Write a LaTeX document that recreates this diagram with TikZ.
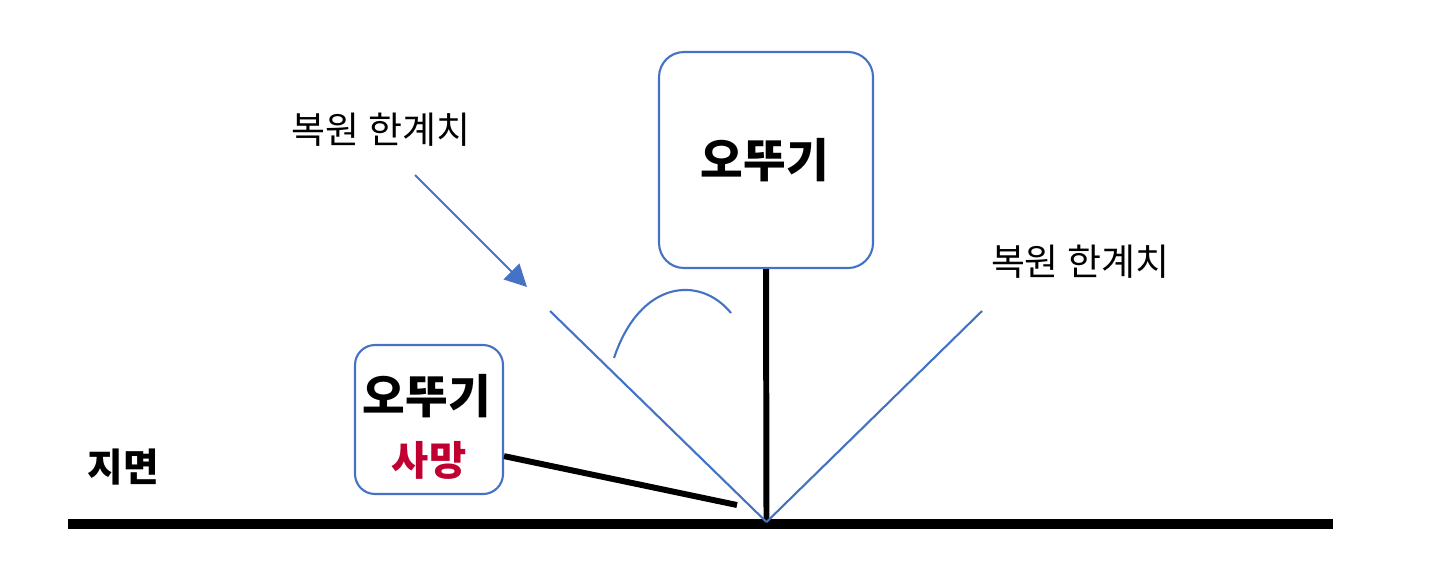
\documentclass[tikz,border=0pt]{standalone}
\usepackage{fontspec}
\setmainfont{Noto Sans CJK KR}
\usepackage{tikz}
\usetikzlibrary{arrows.meta}

\definecolor{lineblue}{RGB}{68,114,196}
\definecolor{deathred}{RGB}{192,0,48}

\begin{document}
\begin{tikzpicture}[
    doll/.style={draw=lineblue, line width=0.6pt, rounded corners=2.5mm, fill=white},
    limit/.style={lineblue, line width=0.6pt},
    stick/.style={line width=1.7pt, black}]
    \useasboundingbox (0,0) rectangle (14.3,5.82);

    % Ground
    \coordinate (gl) at (0.68,0.58);
    \coordinate (gr) at (13.33,0.58);
    \coordinate (base) at (7.665,0.60);
    \draw[line width=3.1pt] (gl) -- (gr);
    \node[font=\fontsize{11}{13}\selectfont\bfseries] (ground) at (1.23,1.15) {지면};

    % Standing doll
    \node[doll, minimum width=2.14cm, minimum height=2.16cm] (big) at (7.66,4.22) {};
    \node[font=\fontsize{13.2}{15}\selectfont\bfseries] (bigtxt) at (7.65,4.22) {오뚜기};
    \draw[stick] (big.south) -- (base);

    % Restoring limits
    \coordinate (limL) at (5.50,2.71);
    \coordinate (limR) at (9.82,2.71);
    \draw[limit] (limL) -- (base);
    \draw[limit] (limR) -- (base);
    \node[font=\fontsize{10.5}{12}\selectfont] (labL) at (3.81,4.52) {복원 한계치};
    \node[font=\fontsize{10.5}{12}\selectfont] (labR) at (10.80,3.20) {복원 한계치};
    \coordinate (arrS) at (4.15,4.07);
    \coordinate (arrE) at (5.27,2.95);
    \draw[limit, -{Triangle[length=2.2mm, width=2.2mm]}] (arrS) -- (arrE);

    % Swing angle
    \coordinate (arcS) at (6.14,2.24);
    \coordinate (arcE) at (7.31,2.69);
    \draw[limit] (arcS) .. controls (6.40,3.02) and (7.00,3.07) .. (arcE);

    % Fallen doll
    \node[doll, rounded corners=2mm, minimum width=1.48cm, minimum height=1.49cm] (small) at (4.29,1.625) {};
    \node[font=\fontsize{13.2}{15}\selectfont\bfseries] (smalltxt) at (4.27,1.86) {오뚜기};
    \node[font=\fontsize{11.5}{13}\selectfont\bfseries, deathred] (dead) at (4.29,1.22) {사망};
    \coordinate (tip) at (7.37,0.77);
    \draw[stick] (small.-26) -- (tip);
\end{tikzpicture}
\end{document}
